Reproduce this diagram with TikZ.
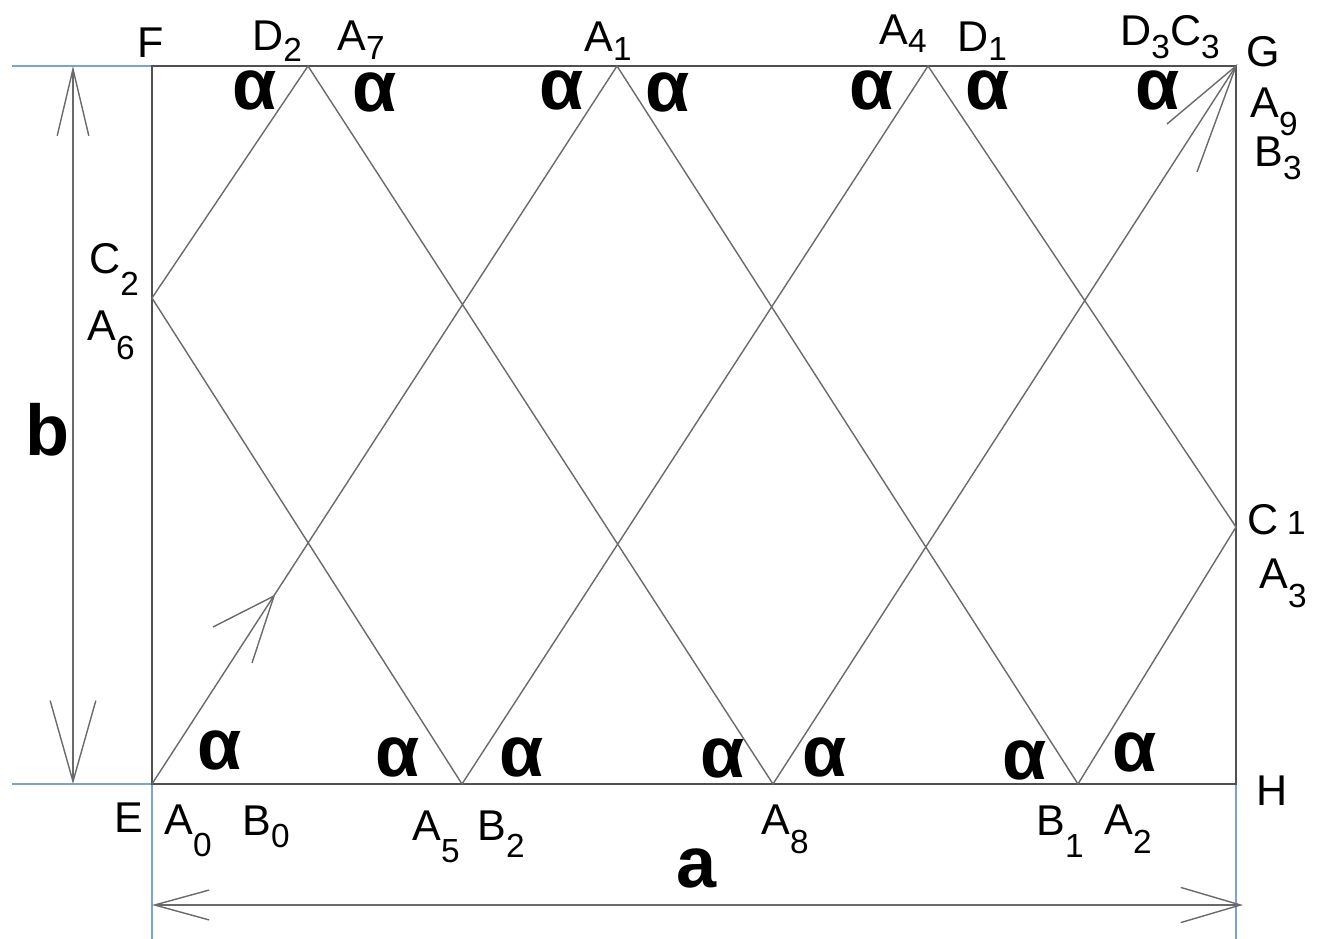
\documentclass[tikz,border=0pt]{standalone}
\usepackage{fontspec}
\setmainfont{Liberation Sans}
\usetikzlibrary{arrows.meta}
\definecolor{linegray}{HTML}{505050}
\definecolor{raygray}{HTML}{6A6A6A}
\definecolor{extblue}{HTML}{7AA2DA}
% letter with a lowered index
\newcommand{\lab}[3][0pt]{#2\raisebox{-#1}{\fontsize{19}{19}\selectfont #3}}

\begin{document}
\begin{tikzpicture}[x=0.02cm,y=-0.02cm,
    frame/.style={draw=linegray,line width=1pt},
    ray/.style={draw=raygray,line width=0.8pt},
    ext/.style={draw=extblue,line width=0.6pt},
    dimline/.style={draw=raygray,line width=0.8pt},
    lbl/.style={inner sep=0pt,anchor=base west,font=\fontsize{24.5}{28}\selectfont},
    ang/.style={inner sep=0pt,font=\fontsize{41}{45}\selectfont\bfseries},
  ]
  \useasboundingbox (0,0) rectangle (1319,939);

  % corners and bounce points
  \coordinate (E) at (152,784);
  \coordinate (F) at (152,66);
  \coordinate (G) at (1236,66);
  \coordinate (H) at (1236,784);
  \coordinate (A1) at (617,66);
  \coordinate (A2) at (1078,784);
  \coordinate (C1) at (1236,527);
  \coordinate (A4) at (928,66);
  \coordinate (A5) at (462,784);
  \coordinate (A6) at (152,298);
  \coordinate (A7) at (308,66);
  \coordinate (A8) at (773,784);

  % blue extension lines
  \coordinate (extF) at (12,66);
  \coordinate (extE) at (12,784);
  \coordinate (extEd) at (152,939);
  \coordinate (extHd) at (1236,939);
  \draw[ext] (extF) -- (F);
  \draw[ext] (extE) -- (E) -- (extEd);
  \draw[ext] (H) -- (extHd);

  \draw[frame] (E) -- (F) -- (G) -- (H) -- cycle;

  % the path
  \draw[ray] (E) -- (A1) -- (A2) -- (C1) -- (A4) -- (A5) -- (A6) -- (A7) -- (A8) -- (G);

  % direction marks
  \coordinate (rtip) at (274,596);
  \coordinate (rarmA) at (213,627);
  \coordinate (rarmB) at (252,663);
  \draw[ray] (rarmA) -- (rtip) -- (rarmB);
  \coordinate (garmA) at (1167,124);
  \coordinate (garmB) at (1197,172);
  \draw[ray] (garmA) -- (G) -- (garmB);

  % dimensions
  \coordinate (dimT) at (73,66);
  \coordinate (dimB) at (73,784);
  \draw[dimline,{Straight Barb[length=38pt,width=18pt]}-{Straight Barb[length=46pt,width=26pt]}] (dimT) -- (dimB);
  \coordinate (dimL) at (152,905);
  \coordinate (dimR) at (1243,905);
  \draw[dimline,{Straight Barb[length=31pt,width=17pt]}-{Straight Barb[length=34pt,width=20pt]}] (dimL) -- (dimR);
  \node[ang] (lb) at (48,430) {b};
  \node[ang] (la) at (697,868) {a};

  % point labels
  \node[lbl] (lF) at (137,58) {F};
  \node[lbl] (lD2) at (252,51) {\lab[6pt]{D}{2}};
  \node[lbl] (lA7) at (337,51) {\lab[5pt]{A}{7}};
  \node[lbl] (lA1) at (584,52) {\lab[5pt]{A}{1}};
  \node[lbl] (lA4) at (879,45) {\lab[4pt]{A}{4}};
  \node[lbl] (lD1) at (957,52) {\lab[5pt]{D}{1}};
  \node[lbl] (lD3C3) at (1120,46) {\lab[7pt]{D}{3}\lab[7pt]{C}{3}};
  \node[lbl] (lG) at (1246,67) {G};
  \node[lbl] (lA9) at (1250,118) {\lab[10pt]{A}{9}};
  \node[lbl] (lB3) at (1254,167) {\lab[7pt]{B}{3}};
  \node[lbl] (lC2) at (89,274) {\lab[12pt]{C}{2}};
  \node[lbl] (lA6) at (87,340) {\lab[11pt]{A}{6}};
  \node[lbl] (lC1) at (1247,534) {C\kern5pt\lab{}{1}};
  \node[lbl] (lA3) at (1259,588) {\lab[11pt]{A}{3}};
  \node[lbl] (lE) at (114,832) {E};
  \node[lbl] (lA0) at (164,834) {\lab[13pt]{A}{0}};
  \node[lbl] (lB0) at (242,835) {\lab[7pt]{B}{0}};
  \node[lbl] (lA5) at (412,840) {\lab[13pt]{A}{5}};
  \node[lbl] (lB2) at (477,840) {\lab[10pt]{B}{2}};
  \node[lbl] (lA8) at (761,834) {\lab[11pt]{A}{8}};
  \node[lbl] (lB1) at (1036,835) {\lab[13pt]{B}{1}};
  \node[lbl] (lA2) at (1104,834) {\lab[11pt]{A}{2}};
  \node[lbl] (lH) at (1256,805) {H};

  % angles
  \node[ang] (t1) at (255,90) {α};
  \node[ang] (t2) at (375,92) {α};
  \node[ang] (t3) at (562,90) {α};
  \node[ang] (t4) at (668,92) {α};
  \node[ang] (t5) at (872,90) {α};
  \node[ang] (t6) at (988,90) {α};
  \node[ang] (t7) at (1158,90) {α};
  \node[ang] (b1) at (220,750) {α};
  \node[ang] (b2) at (398,757) {α};
  \node[ang] (b3) at (522,757) {α};
  \node[ang] (b4) at (723,758) {α};
  \node[ang] (b5) at (825,757) {α};
  \node[ang] (b6) at (1025,760) {α};
  \node[ang] (b7) at (1135,752) {α};
\end{tikzpicture}
\end{document}
